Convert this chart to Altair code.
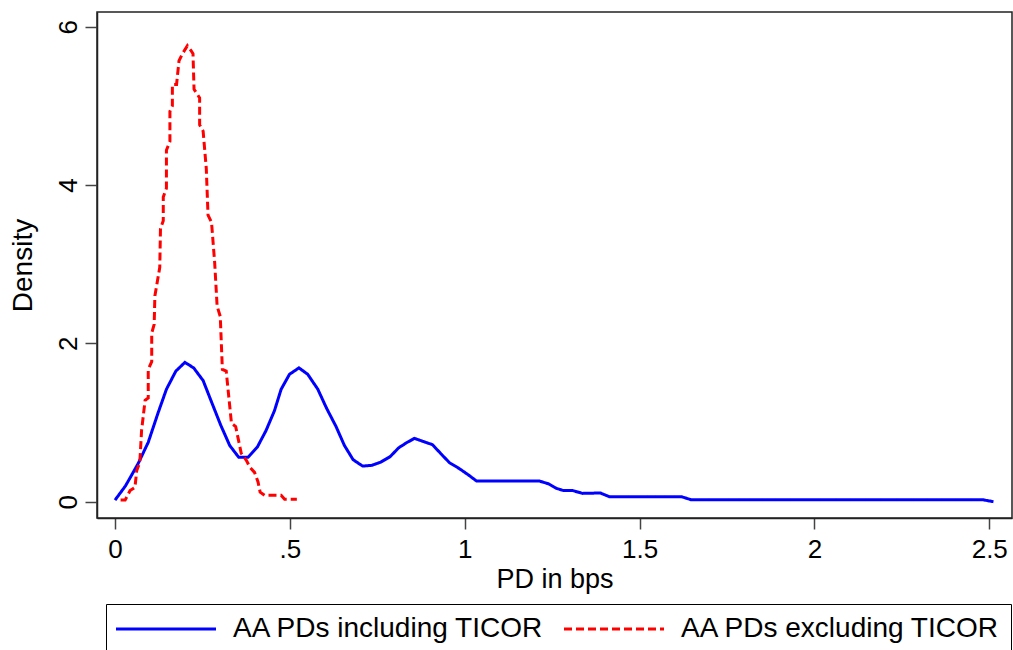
import altair as alt
import pandas as pd

# Blue series: AA PDs including TICOR
incl_x = [0.000, 0.030, 0.066, 0.095, 0.123, 0.147, 0.174, 0.200, 0.225, 0.252, 0.276, 0.302,
          0.328, 0.354, 0.380, 0.407, 0.432, 0.456, 0.475, 0.499, 0.526, 0.551, 0.580, 0.605,
          0.632, 0.656, 0.681, 0.708, 0.735, 0.760, 0.787, 0.811, 0.832, 0.856, 0.882, 0.908,
          0.931, 0.957, 0.984, 1.010, 1.034, 1.214, 1.240, 1.261, 1.283, 1.309, 1.337, 1.388,
          1.413, 1.619, 1.647, 2.481, 2.512]
incl_y = [0.02, 0.20, 0.48, 0.75, 1.12, 1.42, 1.65, 1.76, 1.69, 1.53, 1.26, 0.97,
          0.71, 0.56, 0.56, 0.69, 0.90, 1.15, 1.42, 1.61, 1.69, 1.61, 1.42, 1.18,
          0.95, 0.71, 0.53, 0.45, 0.46, 0.50, 0.57, 0.68, 0.74, 0.80, 0.76, 0.72,
          0.61, 0.49, 0.42, 0.34, 0.26, 0.26, 0.225, 0.17, 0.14, 0.14, 0.105, 0.11,
          0.064, 0.064, 0.025, 0.025, 0.0]

# Red series: AA PDs excluding TICOR
excl_x = [0.016, 0.029, 0.043, 0.057, 0.062, 0.071, 0.076, 0.086, 0.095, 0.095, 0.105, 0.105,
          0.112, 0.114, 0.128, 0.130, 0.138, 0.138, 0.147, 0.147, 0.157, 0.157, 0.164, 0.164,
          0.176, 0.183, 0.193, 0.207, 0.217, 0.223, 0.226, 0.242, 0.242, 0.252, 0.261, 0.266,
          0.276, 0.285, 0.292, 0.301, 0.307, 0.318, 0.333, 0.345, 0.361, 0.376, 0.385, 0.399,
          0.409, 0.415, 0.428, 0.475, 0.485, 0.520]
excl_y = [0.02, 0.02, 0.14, 0.18, 0.39, 0.50, 0.90, 1.28, 1.31, 1.67, 1.77, 2.13,
          2.24, 2.60, 2.96, 3.45, 3.55, 3.85, 3.96, 4.44, 4.55, 4.93, 5.00, 5.27,
          5.27, 5.57, 5.66, 5.76, 5.70, 5.66, 5.21, 5.10, 4.76, 4.68, 4.21, 3.62,
          3.53, 3.02, 2.47, 2.34, 1.67, 1.65, 0.99, 0.95, 0.61, 0.52, 0.44, 0.37,
          0.25, 0.12, 0.08, 0.08, 0.03, 0.03]

series_names = ["AA PDs including TICOR", "AA PDs excluding TICOR"]
series_colors = ["#0000ff", "#ff0000"]
series_dash = [[1, 0], [8, 4]]

x_ticks = [0, 0.5, 1, 1.5, 2, 2.5]
x_tick_labels = ["0", ".5", "1", "1.5", "2", "2.5"]
y_ticks = [0, 2, 4, 6]

rows = []
for i, (xv, yv) in enumerate(zip(incl_x, incl_y)):
    rows.append({"series": series_names[0], "order": i, "pd": xv, "density": yv})
for i, (xv, yv) in enumerate(zip(excl_x, excl_y)):
    rows.append({"series": series_names[1], "order": i, "pd": xv, "density": yv})
df = pd.DataFrame(rows)

label_expr = " : ".join(
    f"datum.value == {v} ? '{l}'" for v, l in zip(x_ticks, x_tick_labels)
) + " : ''"

FONT = "Liberation Sans, Arial, sans-serif"


def make_legend():
    return alt.Legend(title=None, orient="none", legendX=9, legendY=592,
                      direction="horizontal", symbolType="M-10,0H10",
                      symbolSize=100, symbolOffset=35, symbolStrokeWidth=3,
                      labelOffset=53, labelFontSize=28, labelLimit=500,
                      columnPadding=13, padding=11, strokeColor="#000000",
                      labelFont=FONT, labelColor="#000000")


chart = alt.Chart(df).mark_line(strokeWidth=3, clip=True).encode(
    x=alt.X("pd:Q", title="PD in bps",
            scale=alt.Scale(domain=[-0.0515, 2.565], nice=False, zero=False),
            axis=alt.Axis(values=x_ticks, labelExpr=label_expr, grid=False,
                          tickSize=11, labelPadding=7, titlePadding=4,
                          labelFontSize=26, titleFontSize=27, titleFontWeight="normal")),
    y=alt.Y("density:Q", title="Density",
            scale=alt.Scale(domain=[-0.206, 6.186], nice=False, zero=False),
            axis=alt.Axis(values=y_ticks, grid=False, tickSize=12,
                          labelAngle=270, labelAlign="center", labelBaseline="bottom",
                          labelPadding=4, titlePadding=18,
                          labelFontSize=26, titleFontSize=28, titleFontWeight="normal")),
    color=alt.Color("series:N", scale=alt.Scale(domain=series_names, range=series_colors),
                    legend=make_legend()),
    strokeDash=alt.StrokeDash("series:N", scale=alt.Scale(domain=series_names, range=series_dash),
                              legend=make_legend()),
    order="order:Q",
).properties(
    width=915, height=506,
    padding={"left": 97, "top": 12, "right": 1, "bottom": 132},
    autosize=alt.AutoSizeParams(type="none"),
    background="white",
).configure_view(
    stroke="#222222", strokeWidth=1.5
).configure_axis(
    labelFont=FONT, titleFont=FONT, labelColor="#000000", titleColor="#000000",
    titleFontWeight="normal", domainColor="#222222", domainWidth=1.5,
    tickColor="#444444", tickWidth=1.5
)

chart.save("out.html", embed_options={"renderer": "svg", "actions": False})
